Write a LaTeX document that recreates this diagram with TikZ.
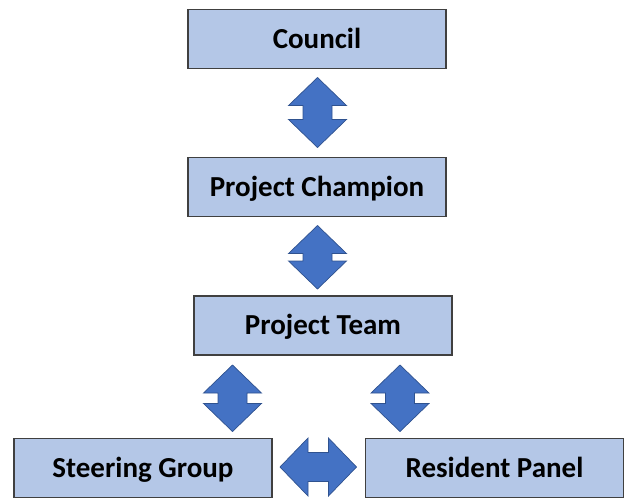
\documentclass[tikz,border=0pt]{standalone}
\usepackage{fontspec}
\setmainfont{Carlito}
\usetikzlibrary{calc}

\definecolor{boxfill}{HTML}{B4C7E7}
\definecolor{boxline}{HTML}{404040}
\definecolor{arrowfill}{HTML}{4472C4}
\definecolor{arrowline}{HTML}{2F528F}

\newcommand{\headlen}{28pt}
\newcommand{\headhalf}{29pt}
\newcommand{\shafthalf}{14.5pt}

% Two-headed block arrow drawn from tip #1 to tip #2
\newcommand{\blockarrow}[2]{%
  \path (#1) coordinate (ba-s) (#2) coordinate (ba-e)
    ($(ba-s)!\headlen!(ba-e)$) coordinate (ba-hs)
    ($(ba-e)!\headlen!(ba-s)$) coordinate (ba-he);
  \draw[blockarrowstyle]
    (ba-s)
    -- ($(ba-hs)!\headhalf!90:(ba-e)$)
    -- ($(ba-hs)!\shafthalf!90:(ba-e)$)
    -- ($(ba-he)!\shafthalf!-90:(ba-s)$)
    -- ($(ba-he)!\headhalf!-90:(ba-s)$)
    -- (ba-e)
    -- ($(ba-he)!\headhalf!90:(ba-s)$)
    -- ($(ba-he)!\shafthalf!90:(ba-s)$)
    -- ($(ba-hs)!\shafthalf!-90:(ba-e)$)
    -- ($(ba-hs)!\headhalf!-90:(ba-e)$)
    -- cycle;
}

\tikzset{
  box/.style={draw=boxline, fill=boxfill, line width=1.5pt,
    minimum width=258pt, minimum height=59pt, inner sep=0pt, outer sep=0pt,
    text height=21pt, text depth=2.5pt,
    font=\fontsize{29}{32}\selectfont\bfseries, text=black},
  blockarrowstyle/.style={fill=arrowfill, draw=arrowline, line width=0.7pt,
    line join=miter}
}

\begin{document}
\begin{tikzpicture}[x=1pt, y=-1pt]
  \useasboundingbox (0,0) rectangle (626,498);

  % organisation boxes
  \node[box] (council)  at (317,39)    {Council};
  \node[box] (champ)    at (317,187)   {Project Champion};
  \node[box] (team)     at (323,325.5) {Project Team};
  \node[box] (steer)    at (143,468)   {Steering Group};
  \node[box] (resident) at (494.5,468) {Resident Panel};

  % end points of the links
  \coordinate (c1a) at ($(council.south)+(0.5,9)$);
  \coordinate (c1b) at ($(champ.north)+(0.5,-10)$);
  \coordinate (c2a) at ($(champ.south)+(0.5,9)$);
  \coordinate (c2b) at ($(team.north)+(-5.5,-7)$);
  \coordinate (c3a) at ($(team.south)+(-90.5,10)$);
  \coordinate (c3b) at ($(c3a |- steer.north)+(0,-7)$);
  \coordinate (c4a) at ($(team.south)+(77,10)$);
  \coordinate (c4b) at ($(c4a |- resident.north)+(0,-7)$);
  \coordinate (c5a) at ($(steer.east)+(8,-1)$);
  \coordinate (c5b) at ($(resident.west)+(-9,-1)$);

  % links
  \blockarrow{c1a}{c1b}
  \blockarrow{c2a}{c2b}
  \blockarrow{c3a}{c3b}
  \blockarrow{c4a}{c4b}
  \blockarrow{c5a}{c5b}
\end{tikzpicture}
\end{document}
